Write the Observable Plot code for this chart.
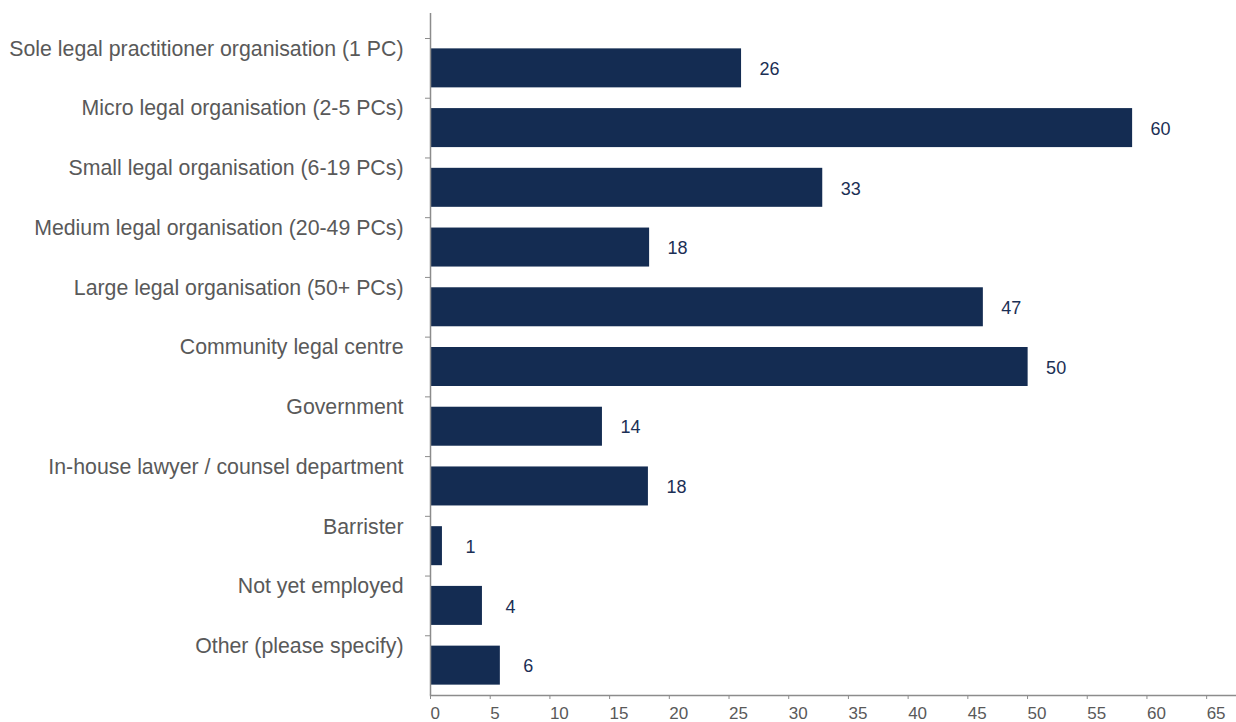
<!DOCTYPE html>
<html><head><meta charset="utf-8">
<script src="https://cdn.jsdelivr.net/npm/d3@7"></script>
<script src="https://cdn.jsdelivr.net/npm/@observablehq/plot@0.6"></script>
<style>html,body{margin:0;padding:0;background:#fff}</style>
</head><body><div id="chart"></div>
<script>
const categories = [
  "Sole legal practitioner organisation (1 PC)",
  "Micro legal organisation (2-5 PCs)",
  "Small legal organisation (6-19 PCs)",
  "Medium legal organisation (20-49 PCs)",
  "Large legal organisation (50+ PCs)",
  "Community legal centre",
  "Government",
  "In-house lawyer / counsel department",
  "Barrister",
  "Not yet employed",
  "Other (please specify)"
];
// bar lengths as drawn in the picture
const barLengths = [26.05, 58.8, 32.85, 18.35, 46.3, 50.05, 14.4, 18.25, 1.0, 4.35, 5.85];
// printed value labels
const valueLabels = [26, 60, 33, 18, 47, 50, 14, 18, 1, 4, 6];
const xTicks = [0, 5, 10, 15, 20, 25, 30, 35, 40, 45, 50, 55, 60, 65];

const data = categories.map((c, i) => ({category: c, length: barLengths[i], label: valueLabels[i]}));

const navy = "#142c52";
const axisGray = "#8c8c8c";
const textGray = "#595959";

const chart = Plot.plot({
  width: 1236,
  height: 722,
  marginTop: 13,
  marginBottom: 27,
  marginLeft: 430,
  marginRight: 0,
  style: {fontFamily: "'Liberation Sans', Arial, sans-serif", background: "#fff"},
  x: {domain: [0, 67.5], label: null},
  y: {domain: categories, insetTop: 25, paddingInner: 0.347, paddingOuter: 0.1735, round: false, label: null},
  marks: [
    Plot.barX(data, {x: "length", y: "category", fill: navy}),
    Plot.text(data, {x: "length", y: "category", text: d => String(d.label), dx: 28, dy: 1,
      textAnchor: "middle", fill: "#1b2f55", fontSize: 18}),
    Plot.axisX({ticks: xTicks, tickSize: 4, tickPadding: 7, textAnchor: "start",
      fontSize: 17, fill: textGray, stroke: axisGray, label: null}),
    Plot.axisY({tickSize: 5, tickFormat: () => "", dy: -29.86, stroke: axisGray, label: null}),
    Plot.axisY({tickSize: 0, tickPadding: 27, dy: -19.5, fontSize: 21.3, fill: textGray, label: null}),
    Plot.ruleX([0], {stroke: axisGray, strokeWidth: 1.5}),
    Plot.frame({anchor: "bottom", stroke: axisGray, strokeWidth: 1.5})
  ]
});
document.getElementById("chart").appendChild(chart);
</script>
</body></html>
